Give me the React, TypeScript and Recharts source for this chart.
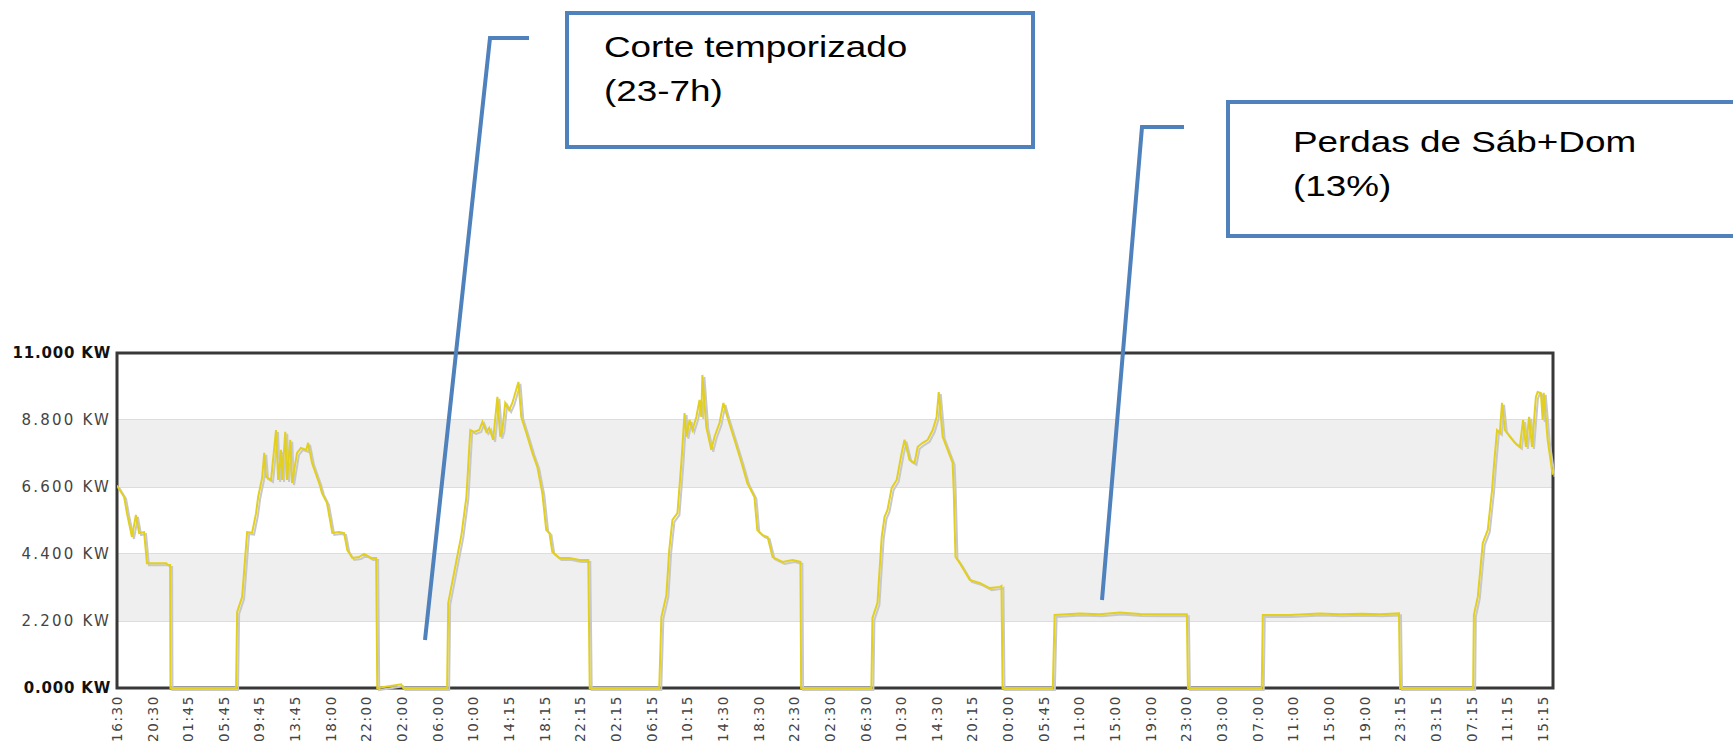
import React from "react";
import { LineChart, Line, XAxis, YAxis, CartesianGrid, ReferenceArea } from "recharts";

// Tick labels along the time axis (one every ~4 hours)
const xLabels = [
  "16:30","20:30","01:45","05:45","09:45","13:45","18:00","22:00","02:00","06:00",
  "10:00","14:15","18:15","22:15","02:15","06:15","10:15","14:30","18:30","22:30",
  "02:30","06:30","10:30","14:30","20:15","00:00","05:45","11:00","15:00","19:00",
  "23:00","03:00","07:00","11:00","15:00","19:00","23:15","03:15","07:15","11:15","15:15",
];

const yTicks = [0, 2200, 4400, 6600, 8800, 11000];
const yLabels = ["0.000 KW", "2.200 KW", "4.400 KW", "6.600 KW", "8.800 KW", "11.000 KW"];

// Position along the time axis (in tick-label units) and power (W)
const T = [
  0.00,0.20,0.28,0.42,0.53,0.62,0.76,0.84,1.38,1.43,1.49,1.50,3.34,3.37,3.51,3.65,3.79,3.90,3.96,4.07,
  4.13,4.18,4.32,4.46,4.52,4.60,4.63,4.72,4.77,4.86,4.91,5.05,5.16,5.31,5.36,5.47,5.67,5.75,5.89,6.04,
  6.23,6.37,6.46,6.60,6.79,6.93,7.13,7.27,7.30,7.97,8.03,9.26,9.29,9.40,9.54,9.66,9.80,9.91,10.02,10.16,
  10.25,10.36,10.44,10.55,10.67,10.75,10.81,10.89,11.00,11.09,11.26,11.34,11.48,11.65,11.79,11.93,12.04,12.13,12.21,12.41,
  12.69,12.97,13.22,13.26,15.21,15.27,15.41,15.49,15.58,15.72,15.83,15.92,15.97,16.06,16.14,16.25,16.34,16.39,16.42,16.53,
  16.67,16.76,16.90,17.01,17.12,17.32,17.52,17.68,17.88,17.96,18.11,18.25,18.39,18.67,18.95,19.17,19.19,21.16,21.19,21.33,
  21.45,21.53,21.61,21.73,21.87,22.01,22.09,22.23,22.37,22.46,22.60,22.74,22.88,22.99,23.05,23.16,23.30,23.44,23.47,23.52,
  23.64,23.92,24.20,24.48,24.76,24.81,24.84,26.25,26.30,27.00,27.56,28.13,28.69,29.25,30.01,30.04,32.11,32.14,32.90,33.74,
  34.30,34.92,35.43,35.96,35.99,38.04,38.06,38.17,38.31,38.45,38.57,38.62,38.71,38.79,38.85,38.93,39.07,39.21,39.35,39.44,
  39.52,39.61,39.69,39.80,39.85,39.94,39.99,40.02,40.13,40.27,
];
const KW = [
  6650,6270,5740,4960,5680,5090,5120,4100,4100,4040,4040,0,0,2500,2990,5120,5100,5740,6280,6900,
  7720,6930,6830,8470,6830,7820,6830,8410,6830,8150,6730,7720,7880,7820,8050,7390,6730,6400,6070,5090,
  5120,5090,4530,4270,4300,4400,4270,4270,0,120,0,0,2790,3450,4300,5020,6270,8470,8410,8470,
  8740,8410,8540,8150,9560,8250,8470,9360,9130,9360,10050,8900,8380,7720,7260,6400,5190,5090,4470,4270,
  4270,4200,4200,0,0,2330,3050,4530,5520,5740,7390,9030,8250,8800,8470,8900,9460,8900,10280,8570,
  7820,8250,8700,9360,8900,8150,7390,6730,6270,5190,5020,4960,4300,4140,4200,4140,0,0,2300,2790,
  4960,5620,5840,6570,6830,7720,8150,7490,7390,7920,8050,8150,8470,8900,9720,8250,7820,7390,6500,4300,
  4100,3550,3450,3280,3320,3350,0,0,2400,2450,2420,2480,2430,2420,2420,0,0,2400,2400,2450,
  2420,2440,2420,2450,0,0,2400,2990,4760,5190,6500,7260,8470,8380,9360,8470,8250,8050,7920,8800,
  7920,8900,7920,9560,9720,9690,8800,9690,8150,7000,
];

const data = T.map((t, i) => ({ t, kw: KW[i] }));
const xTicks = xLabels.map((_, i) => i);

const YTick = (props: any) => {
  const { x, y, payload } = props;
  const idx = yTicks.indexOf(payload.value);
  const bold = payload.value === 0 || payload.value === 11000;
  return (
    <text
      x={x - 6}
      y={y}
      dy="0.36em"
      textAnchor="end"
      fontFamily="DejaVu Sans, Verdana, sans-serif"
      fontSize={15}
      letterSpacing={bold ? 0.8 : 2.2}
      fontWeight={bold ? 700 : 400}
      fill={bold ? "#111" : "#444"}
    >
      {yLabels[idx]}
    </text>
  );
};

const XTick = (props: any) => {
  const { x, y, payload } = props;
  return (
    <g transform={`translate(${x},${y + 7})`}>
      <text
        transform="rotate(-90)"
        textAnchor="end"
        dy="0.36em"
        fontFamily="DejaVu Sans, Verdana, sans-serif"
        fontSize={13.5}
        letterSpacing={1.6}
        fill="#444"
      >
        {xLabels[payload.value]}
      </text>
    </g>
  );
};

const BLUE = "#4f81bd";
const NOTE_FONT = "Liberation Sans, Arial, sans-serif";

const Note = ({ x, y, children }: { x: number; y: number; children: React.ReactNode }) => (
  <text transform={`translate(${x},${y}) scale(1.25,1)`} fontFamily={NOTE_FONT} fontSize={29.5} fill="#000">
    {children}
  </text>
);

export default function App() {
  return (
    <div style={{ position: "absolute", left: 0, top: 0, width: 1733, height: 744, background: "#fff" }}>
      <style>{`.kw-shadow path { transform: translate(2px, 2px); }`}</style>
      <LineChart
        width={1733}
        height={744}
        data={data}
        margin={{ top: 353, right: 180, bottom: 0, left: 0 }}
      >
        <ReferenceArea y1={2200} y2={4400} fill="#efefef" fillOpacity={1} stroke="none" />
        <ReferenceArea y1={6600} y2={8800} fill="#efefef" fillOpacity={1} stroke="none" />
        <CartesianGrid vertical={false} stroke="#d2d2d2" strokeWidth={1.5} />
        <XAxis
          dataKey="t"
          type="number"
          domain={[0, 40.28]}
          ticks={xTicks}
          interval={0}
          height={56}
          axisLine={false}
          tickLine={false}
          tickSize={0}
          tickMargin={0}
          tick={<XTick />}
          allowDataOverflow
        />
        <YAxis
          type="number"
          domain={[0, 11000]}
          ticks={yTicks}
          interval={0}
          width={117}
          axisLine={false}
          tickLine={false}
          tickSize={0}
          tickMargin={0}
          tick={<YTick />}
        />
        <ReferenceArea
          x1={0}
          x2={40.28}
          y1={0}
          y2={11000}
          fill="none"
          stroke="#383838"
          strokeWidth={3}
        />
        <Line
          className="kw-shadow"
          dataKey="kw"
          type="linear"
          stroke="#c8c8c8"
          strokeWidth={2}
          dot={false}
          activeDot={false}
          isAnimationActive={false}
        />
        <Line
          dataKey="kw"
          type="linear"
          stroke="#e2cf1e"
          strokeWidth={2}
          dot={false}
          activeDot={false}
          isAnimationActive={false}
        />
      </LineChart>
      <svg
        width={1733}
        height={744}
        style={{ position: "absolute", left: 0, top: 0, pointerEvents: "none" }}
      >
        <polyline points="529,38 490,38 425,640" fill="none" stroke={BLUE} strokeWidth={4} />
        <rect x={567} y={13} width={466} height={134} fill="none" stroke={BLUE} strokeWidth={4} />
        <Note x={604} y={57}>Corte temporizado</Note>
        <Note x={604} y={101}>(23-7h)</Note>
        <polyline points="1184,127 1142,127 1102,600" fill="none" stroke={BLUE} strokeWidth={4} />
        <rect x={1228} y={102} width={560} height={134} fill="none" stroke={BLUE} strokeWidth={4} />
        <Note x={1293} y={152}>Perdas de Sáb+Dom</Note>
        <Note x={1293} y={196}>(13%)</Note>
      </svg>
    </div>
  );
}
